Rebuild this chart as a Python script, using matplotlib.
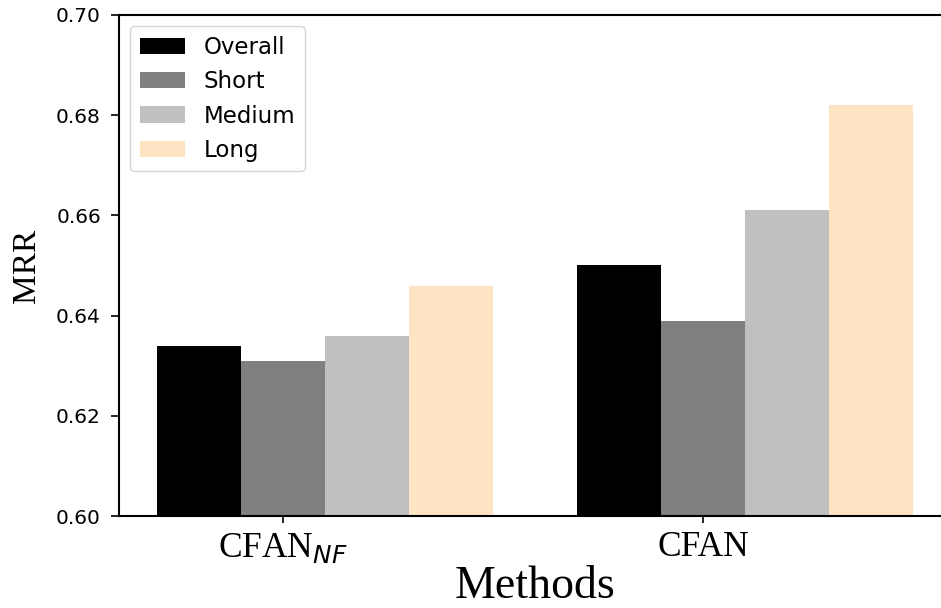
import matplotlib.pyplot as plt
import numpy as np

methods = ['CFAN$_{NF}$', 'CFAN']
groups = ['Overall', 'Short', 'Medium', 'Long']
overall = [0.634, 0.650]
short = [0.631, 0.639]
medium = [0.636, 0.661]
long_ = [0.646, 0.682]
colors = ['black', 'gray', 'silver', 'bisque']

fig = plt.figure(figsize=(9.41, 6.08), dpi=100)
ax = fig.add_axes([119 / 941, 92 / 608, (951 - 119) / 941, 501 / 608])

x = np.arange(len(methods))
w = 0.2
for k, (vals, name) in enumerate(zip([overall, short, medium, long_], groups)):
    ax.bar(x + (k - 1) * w, vals, w, color=colors[k], label=name)

ax.set_ylim(0.60, 0.70)
ax.set_yticks([0.60, 0.62, 0.64, 0.66, 0.68, 0.70])
ax.set_xticks(x)
ax.set_xticklabels(methods, family='Liberation Serif', fontsize=25.5)
ax.tick_params(axis='y', labelsize=14.5, length=6, width=1.2, pad=7)
ax.tick_params(axis='x', length=5, width=1.2, pad=6)
for s in ax.spines.values():
    s.set_linewidth(1.5)

ax.set_ylabel('MRR', family='Liberation Serif', fontsize=24, labelpad=10)
ax.set_xlabel('Methods', family='Liberation Serif', fontsize=33, labelpad=0.5)
ax.legend(loc='upper left', fontsize=16.5, borderaxespad=0.5)

plt.savefig('out.png', dpi=100)
